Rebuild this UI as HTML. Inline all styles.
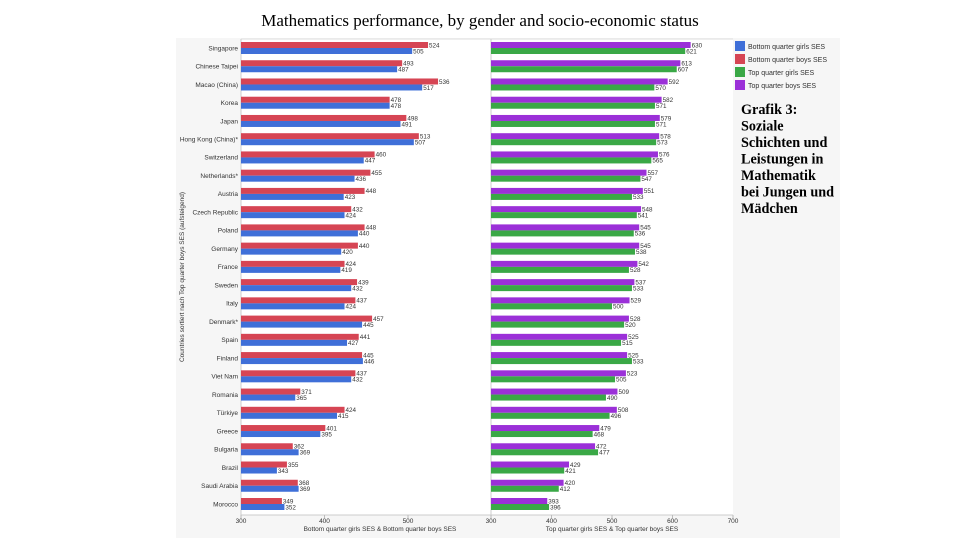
<!DOCTYPE html>
<html><head><meta charset="utf-8"><style>
html,body{margin:0;padding:0;background:#fff;width:960px;height:540px;overflow:hidden}
</style></head><body>
<svg id="s" width="960" height="540" xmlns="http://www.w3.org/2000/svg" font-family="Liberation Sans, sans-serif">
<text x="480" y="26" text-anchor="middle" font-family="Liberation Serif, serif" font-size="17">Mathematics performance, by gender and socio-economic status</text>
<rect x="176" y="38" width="664" height="500" fill="#f6f6f6"/>
<rect x="241" y="39" width="492" height="476" fill="#fff"/>
<line x1="241" y1="39" x2="733" y2="39" stroke="#ddd"/>
<line x1="241" y1="39" x2="241" y2="515" stroke="#ccc"/>
<line x1="241" y1="515" x2="733" y2="515" stroke="#ccc"/>
<line x1="491" y1="39" x2="491" y2="515" stroke="#ccc"/>
<g id="g"></g>
<text transform="translate(184,277) rotate(-90)" text-anchor="middle" font-size="6.5" fill="#333">Countries sortiert nach Top quarter boys SES (aufsteigend)</text>
<text x="380" y="531" text-anchor="middle" font-size="6.5" fill="#333">Bottom quarter girls SES &amp; Bottom quarter boys SES</text>
<text x="612" y="531" text-anchor="middle" font-size="6.5" fill="#333">Top quarter girls SES &amp; Top quarter boys SES</text>
<g font-size="7" fill="#333">
<rect x="735" y="41" width="10" height="10" fill="#3f6fd8"/><text x="748" y="49">Bottom quarter girls SES</text>
<rect x="735" y="54" width="10" height="10" fill="#d64554"/><text x="748" y="62">Bottom quarter boys SES</text>
<rect x="735" y="67" width="10" height="10" fill="#3aa846"/><text x="748" y="75">Top quarter girls SES</text>
<rect x="735" y="80" width="10" height="10" fill="#9b30d8"/><text x="748" y="88">Top quarter boys SES</text>
</g>
<g font-family="Liberation Serif, serif" font-weight="bold" font-size="14.2">
<text x="741" y="114">Grafik 3:</text>
<text x="741" y="130.5">Soziale</text>
<text x="741" y="147">Schichten und</text>
<text x="741" y="163.5">Leistungen in</text>
<text x="741" y="180">Mathematik</text>
<text x="741" y="196.5">bei Jungen und</text>
<text x="741" y="213">Mädchen</text>
</g>
</svg>
<script>
var d=[["Singapore",524,505,630,621],["Chinese Taipei",493,487,613,607],["Macao (China)",536,517,592,570],["Korea",478,478,582,571],["Japan",498,491,579,571],["Hong Kong (China)*",513,507,578,573],["Switzerland",460,447,576,565],["Netherlands*",455,436,557,547],["Austria",448,423,551,533],["Czech Republic",432,424,548,541],["Poland",448,440,545,536],["Germany",440,420,545,538],["France",424,419,542,528],["Sweden",439,432,537,533],["Italy",437,424,529,500],["Denmark*",457,445,528,520],["Spain",441,427,525,515],["Finland",445,446,525,533],["Viet Nam",437,432,523,505],["Romania",371,365,509,490],["Türkiye",424,415,508,496],["Greece",401,395,479,468],["Bulgaria",362,369,472,477],["Brazil",355,343,429,421],["Saudi Arabia",368,369,420,412],["Morocco",349,352,393,396]];
var h="";
function L(v){return 241+(v-300)*0.835}
function R(v){return 491+(v-300)*0.605}
function bar(x0,x1,y,c,v){return '<rect x="'+x0+'" y="'+y+'" width="'+(x1-x0)+'" height="6" fill="'+c+'"/><text x="'+(x1+1)+'" y="'+(y+5.3)+'" font-size="6.3" fill="#333">'+v+'</text>';}
d.forEach(function(r,i){var c=48+i*18.24;
h+='<text x="238" y="'+(c+2.3)+'" text-anchor="end" font-size="6.5" fill="#333">'+r[0]+'</text>';
h+=bar(241,L(r[1]),c-6,"#d64554",r[1]);h+=bar(241,L(r[2]),c,"#3f6fd8",r[2]);
h+=bar(491,R(r[3]),c-6,"#9b30d8",r[3]);h+=bar(491,R(r[4]),c,"#3aa846",r[4]);});
[300,400,500].forEach(function(v){var x=L(v);h+='<line x1="'+x+'" y1="515" x2="'+x+'" y2="518" stroke="#bbb"/><text x="'+x+'" y="523" text-anchor="middle" font-size="6.5" fill="#333">'+v+'</text>';});
[300,400,500,600,700].forEach(function(v){var x=R(v);h+='<line x1="'+x+'" y1="515" x2="'+x+'" y2="518" stroke="#bbb"/><text x="'+x+'" y="523" text-anchor="middle" font-size="6.5" fill="#333">'+v+'</text>';});
document.getElementById("g").innerHTML=h;
</script>
</body></html>
